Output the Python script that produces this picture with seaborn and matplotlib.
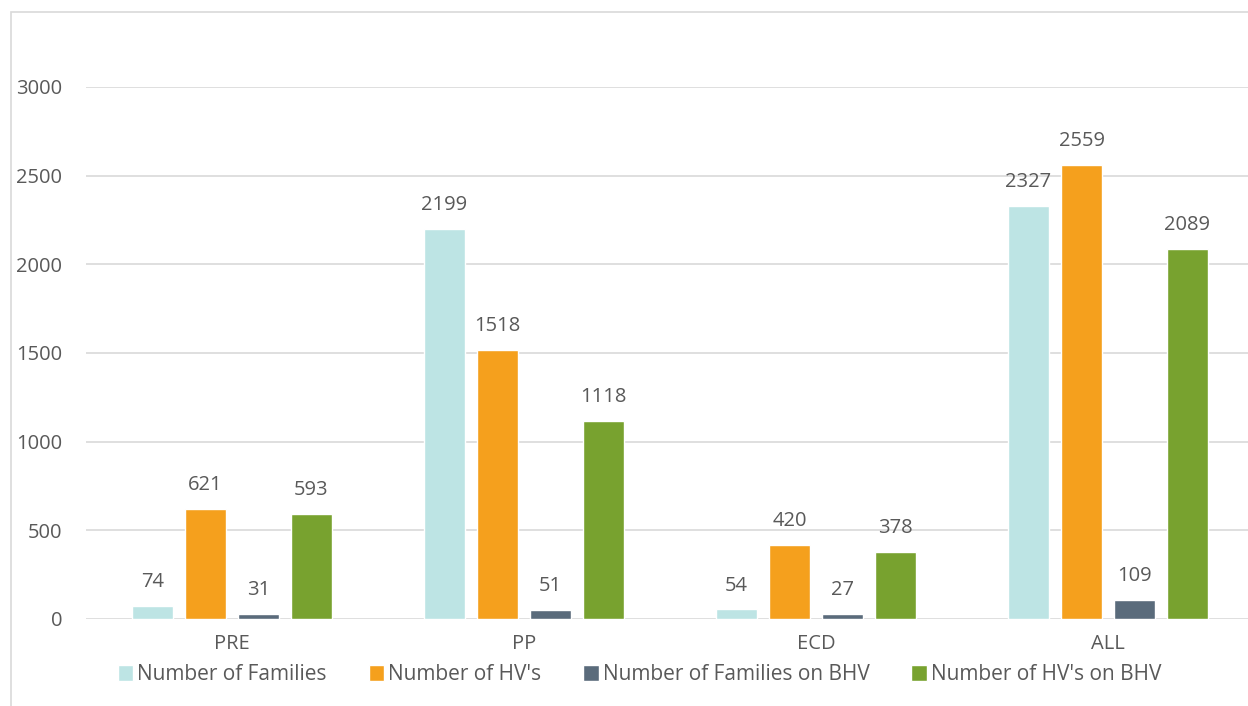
import numpy as np
import pandas as pd
import seaborn as sns
import matplotlib.pyplot as plt
from matplotlib.patches import Rectangle

categories = ["PRE", "PP", "ECD", "ALL"]
series = ["Number of Families", "Number of HV's",
          "Number of Families on BHV", "Number of HV's on BHV"]
families = [74, 2199, 54, 2327]
hvs = [621, 1518, 420, 2559]
families_bhv = [31, 51, 27, 109]
hvs_bhv = [593, 1118, 378, 2089]
colors = ["#BDE4E4", "#F5A01D", "#5A6B7B", "#78A22F"]

rows = []
for name, vals in zip(series, [families, hvs, families_bhv, hvs_bhv]):
    for cat, v in zip(categories, vals):
        rows.append({"category": cat, "series": name, "value": v})
df = pd.DataFrame(rows)

sns.set_style("white")
plt.rcParams["font.family"] = ["Open Sans", "DejaVu Sans"]
text_color = "#595959"

fig = plt.figure(figsize=(12.48, 7.06), dpi=100)
ax = fig.add_axes([86 / 1248, 1 - 619 / 706, 1168 / 1248, 532 / 706])

sns.barplot(data=df, x="category", y="value", hue="series",
            palette=colors, width=0.726, gap=0.226, ax=ax, saturation=1)

for c in ax.containers:
    ax.bar_label(c, padding=10, fontsize=14.5, color=text_color)

ax.set_ylim(0, 3000)
ax.set_xlim(-0.5, 3.5)
ax.set_yticks(np.arange(0, 3001, 500))
ax.yaxis.grid(True, color="#D9D9D9", linewidth=1.2)
ax.set_axisbelow(True)
for s in ax.spines.values():
    s.set_visible(False)
ax.set_xlabel("")
ax.set_ylabel("")
ax.tick_params(axis="y", length=0, pad=17, labelsize=14.5, labelcolor=text_color)
ax.tick_params(axis="x", length=0, pad=11, labelsize=14.5, labelcolor=text_color)

ax.legend(loc="upper center", bbox_to_anchor=(0.474, -0.05), ncol=4,
          frameon=False, fontsize=15, handlelength=0.75, handleheight=0.75,
          handletextpad=0.2, columnspacing=2.0, labelcolor=text_color)

fig.patches.append(Rectangle((11 / 1248, -0.1), 1.2, 1 - 12 / 706 + 0.1,
                             transform=fig.transFigure, fill=False,
                             edgecolor="#D9D9D9", linewidth=1.2))

fig.savefig("out.png", dpi=100)
